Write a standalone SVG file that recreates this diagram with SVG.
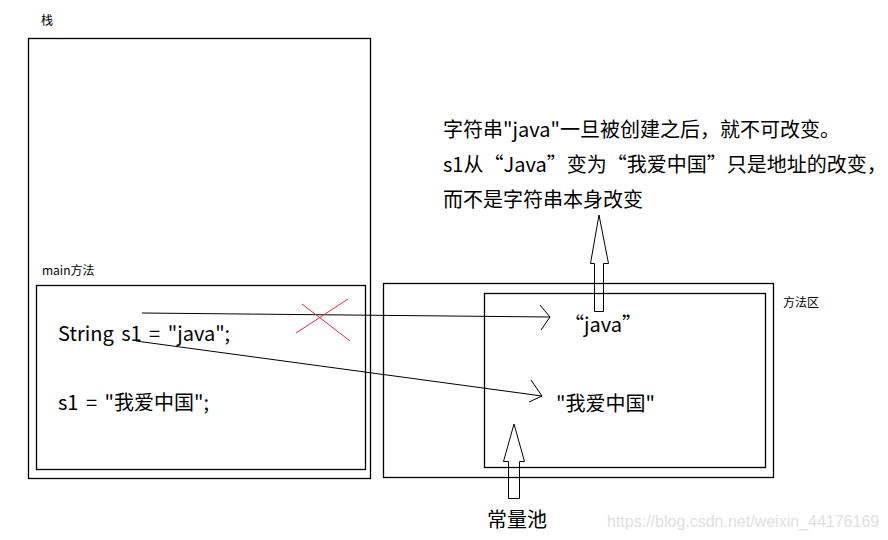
<svg xmlns="http://www.w3.org/2000/svg" width="888" height="540" viewBox="0 0 888 540">
<style>
.box{fill:none;stroke:#000;stroke-width:1.3}
.ln{fill:none;stroke:#000;stroke-width:1}
.big{font-family:"Noto Sans CJK SC","Noto Sans",sans-serif;font-size:20px;fill:#000}
.sm{font-family:"Noto Sans CJK SC","Noto Sans",sans-serif;font-size:12px;fill:#000}
.wm{font-family:"Liberation Sans",Arial,sans-serif;font-size:16px;fill:#e0e0e0}
</style>
<rect width="888" height="540" fill="#fff"/>
<g id="stack">
<text class="sm" x="41" y="25">栈</text>
<rect class="box" x="28.5" y="38.5" width="342" height="440"/>
</g>
<g id="main">
<text class="sm" x="42" y="275">main方法</text>
<rect class="box" x="36.5" y="285.5" width="329" height="184"/>
<text class="big" x="58" y="341" word-spacing="3">String s1 = "java";</text>
<text class="big" x="58" y="410" word-spacing="3">s1 = "我爱中国";</text>
</g>
<g id="method-area">
<rect class="box" x="383.5" y="283.5" width="390" height="194"/>
<text class="sm" x="783" y="307">方法区</text>
</g>
<g id="pool">
<rect class="box" x="484.5" y="293.5" width="281" height="174"/>
<text class="big" x="564" y="332">“java”</text>
<text class="big" x="556" y="411">"我爱中国"</text>
</g>
<g id="note">
<text class="big" x="443" y="137">字符串"java"一旦被创建之后，就不可改变。</text>
<text class="big" x="443" y="172">s1从“Java”变为“我爱中国”只是地址的改变，</text>
<text class="big" x="443" y="207">而不是字符串本身改变</text>
</g>
<g id="pool-label">
<text class="big" x="487" y="527">常量池</text>
</g>
<g id="connectors">
<polyline class="ln" points="142,313 550,317"/>
<polyline class="ln" points="540,305 550,317 541,330"/>
<polyline class="ln" points="136,341 542,396"/>
<polyline class="ln" points="531,380 542,396 529,402"/>
<line x1="302" y1="304" x2="350" y2="341" stroke="#e8263a" stroke-width="1"/>
<line x1="348" y1="299" x2="296" y2="333" stroke="#e8263a" stroke-width="1"/>
<polygon class="ln" points="594.5,311.5 603.5,311.5 603.5,263.5 608.5,263.5 599,215 590.5,263.5 594.5,263.5"/>
<polygon class="ln" points="508.5,498.5 519.5,498.5 519.5,461.5 524.5,461.5 514,424 503.5,461.5 508.5,461.5"/>
</g>
<text class="wm" x="607" y="527">https://blog.csdn.net/weixin_44176169</text>
</svg>
